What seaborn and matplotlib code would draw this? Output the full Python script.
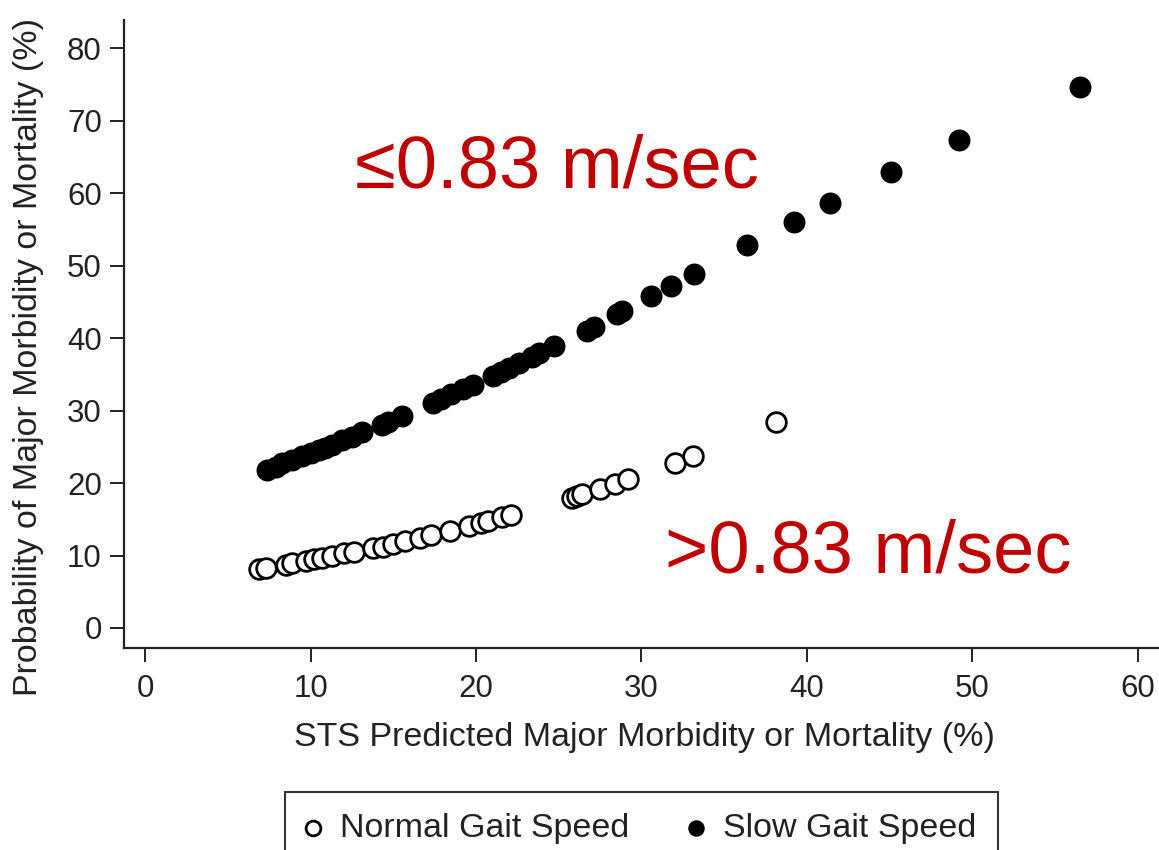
import matplotlib
matplotlib.use("Agg")
import matplotlib.pyplot as plt
import pandas as pd
import seaborn as sns

# Slow gait speed (filled circles)
slow_x = [7.4, 7.9, 8.3, 8.9, 9.5, 10.0, 10.5, 10.9, 11.3, 11.9, 12.5, 13.1, 14.3, 14.7, 15.5,
          17.4, 17.9, 18.5, 19.2, 19.8, 21.0, 21.5, 22.0, 22.6, 23.4, 23.8, 24.7, 26.7, 27.1,
          28.5, 28.8, 30.6, 31.8, 33.2, 36.4, 39.2, 41.4, 45.1, 49.2, 56.5]
slow_y = [21.8, 22.2, 22.7, 23.2, 23.8, 24.2, 24.6, 24.9, 25.3, 25.9, 26.4, 27.0, 28.0, 28.4, 29.2,
          31.0, 31.6, 32.3, 33.0, 33.6, 34.8, 35.3, 35.9, 36.5, 37.4, 37.9, 38.9, 41.0, 41.5,
          43.3, 43.7, 45.8, 47.2, 48.9, 52.9, 56.0, 58.7, 62.9, 67.3, 74.6]

# Normal gait speed (open circles)
normal_x = [6.9, 7.3, 8.5, 8.9, 9.7, 10.2, 10.7, 11.3, 12.0, 12.6, 13.8, 14.4, 15.0, 15.7, 16.6,
            17.3, 18.4, 19.6, 20.3, 20.7, 21.6, 22.1, 25.8, 26.1, 26.4, 27.5, 28.4, 29.2, 32.0,
            33.1, 38.1]
normal_y = [8.2, 8.3, 8.7, 9.0, 9.2, 9.5, 9.6, 9.9, 10.3, 10.5, 11.0, 11.2, 11.6, 12.0, 12.4,
            12.8, 13.4, 14.1, 14.5, 14.8, 15.3, 15.6, 18.0, 18.2, 18.5, 19.2, 19.9, 20.6, 22.8,
            23.8, 28.4]

x_ticks = [0, 10, 20, 30, 40, 50, 60]
y_ticks = [0, 10, 20, 30, 40, 50, 60, 70, 80]
x_label = "STS Predicted Major Morbidity or Mortality (%)"
y_label = "Probability of Major Morbidity or Mortality (%)"
legend_labels = ["Normal Gait Speed", "Slow Gait Speed"]
annot_slow = "≤0.83 m/sec"
annot_normal = ">0.83 m/sec"

sns.set_theme(style="ticks")
plt.rcParams['font.family'] = ['Liberation Sans', 'DejaVu Sans']

W, H = 1159, 850
fig = plt.figure(figsize=(W / 100, H / 100), dpi=100)
ax = fig.add_axes([124 / W, 1 - 648 / H, 1 - 124 / W, (648 - 20) / H])

df_normal = pd.DataFrame({"x": normal_x, "y": normal_y})
df_slow = pd.DataFrame({"x": slow_x, "y": slow_y})

sns.scatterplot(data=df_normal, x="x", y="y", ax=ax, marker="o", s=200,
                color="white", edgecolor="black", linewidth=2.0,
                label=legend_labels[0], zorder=3)
sns.scatterplot(data=df_slow, x="x", y="y", ax=ax, marker="o", s=250,
                color="black", edgecolor="black", linewidth=0,
                label=legend_labels[1], zorder=3)

ax.set_xlim(-1.27, 61.27)
ax.set_ylim(-2.76, 83.9)
ax.set_xticks(x_ticks)
ax.set_yticks(y_ticks)
sns.despine(ax=ax)
for sp in ["left", "bottom"]:
    ax.spines[sp].set_linewidth(1.6)
    ax.spines[sp].set_color("#222222")
ax.tick_params(axis="both", length=10, width=1.4, color="#222222",
               labelsize=22.5, labelcolor="#222222", pad=6)
ax.tick_params(axis="x", pad=9)

ax.set_xlabel(x_label, fontsize=24.5, color="#222222")
ax.set_ylabel(y_label, fontsize=24.5, color="#222222")
ax.xaxis.set_label_coords(0.503, -0.118)
ax.yaxis.set_label_coords(-0.077, 0.463)

ax.text(12.7, 60.8, annot_slow, color="#C00000", fontsize=53.5,
        ha="left", va="baseline")
ax.text(31.4, 7.7, annot_normal, color="#C00000", fontsize=53.5,
        ha="left", va="baseline")

handles, labels = ax.get_legend_handles_labels()
leg = ax.legend(handles, labels, loc="upper center",
                bbox_to_anchor=(641.5 / W, 1 - 792 / H), bbox_transform=fig.transFigure,
                borderaxespad=0, ncol=2, frameon=True, fancybox=False, fontsize=24.5,
                edgecolor="black", handletextpad=0.6, columnspacing=1.75,
                borderpad=0.62, markerscale=0.75, handlelength=0.4)
leg.get_frame().set_linewidth(1.5)
for t in leg.get_texts():
    t.set_color("#222222")

fig.savefig("out.png", dpi=100)
